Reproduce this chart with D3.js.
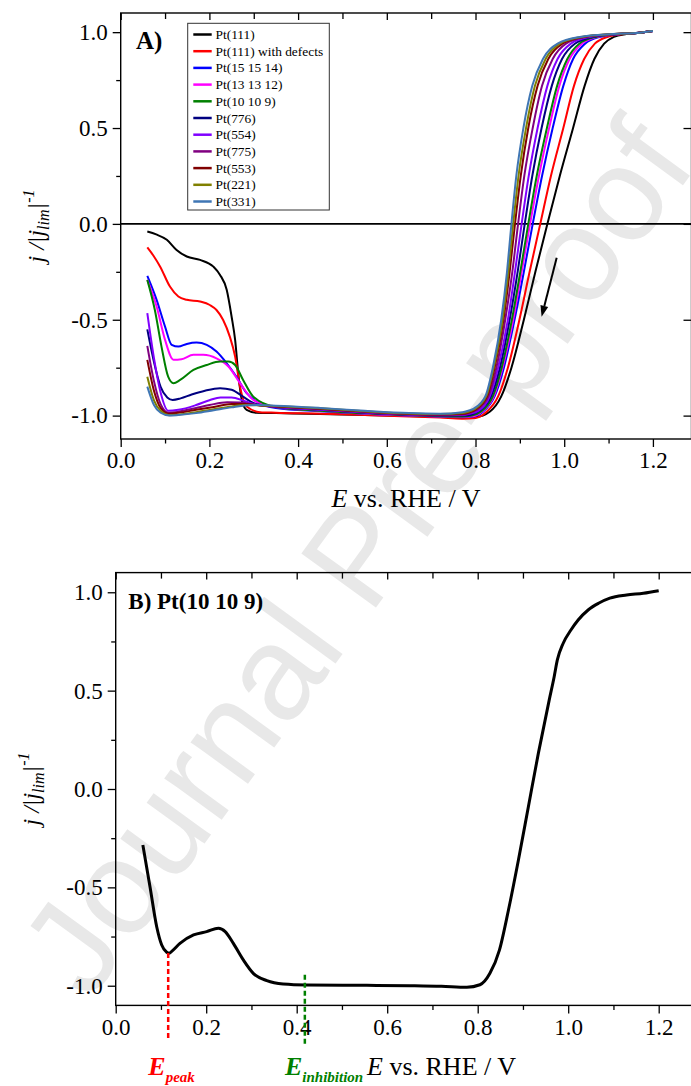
<!DOCTYPE html>
<html><head><meta charset="utf-8">
<script src="https://cdn.jsdelivr.net/npm/d3@7"></script>
<style>html,body{margin:0;padding:0;background:#fff;}svg{display:block;}</style>
</head><body>
<svg id="c" width="691" height="1086"></svg>
<script>
// ---------------- DATA ----------------
const seriesNames = ["Pt(111)","Pt(111) with defects","Pt(15 15 14)","Pt(13 13 12)","Pt(10 10 9)","Pt(776)","Pt(554)","Pt(775)","Pt(553)","Pt(221)","Pt(331)"];
const seriesColors = ["#000000","#ff0000","#0000ff","#ff00ff","#008000","#000080","#8000ff","#800080","#800000","#808000","#3f76b4"];

const pt111 = [[0.06,-0.04],[0.08,-0.055],[0.104,-0.083],[0.126,-0.136],[0.149,-0.17],[0.179,-0.188],[0.209,-0.223],[0.224,-0.266],[0.239,-0.344],[0.25,-0.483],[0.258,-0.605],[0.265,-0.779],[0.273,-0.918],[0.284,-0.97],[0.306,-0.985],[0.35,-0.987],[0.45,-0.992],[0.55,-0.997],[0.65,-1.002],[0.72,-1.006],[0.77,-1.01],[0.80,-1.008],[0.832,-0.98],[0.858,-0.9],[0.881,-0.75],[0.909,-0.5],[0.935,-0.25],[0.962,0],[0.99,0.25],[1.02,0.5],[1.046,0.72],[1.068,0.86],[1.09,0.94],[1.112,0.975],[1.14,0.99],[1.17,0.997],[1.2,1.006]];
const pt111def = [[0.06,-0.123],[0.075,-0.17],[0.089,-0.223],[0.111,-0.327],[0.13,-0.379],[0.149,-0.396],[0.179,-0.405],[0.201,-0.423],[0.216,-0.449],[0.231,-0.501],[0.246,-0.588],[0.258,-0.692],[0.269,-0.849],[0.284,-0.953],[0.314,-0.982],[0.35,-0.985],[0.45,-0.99],[0.55,-0.997],[0.65,-1.004],[0.72,-1.01],[0.77,-1.016],[0.80,-1.012],[0.825,-0.98],[0.851,-0.9],[0.873,-0.75],[0.899,-0.5],[0.922,-0.25],[0.946,0],[0.97,0.25],[0.998,0.5],[1.022,0.72],[1.045,0.86],[1.069,0.94],[1.097,0.975],[1.134,0.99],[1.17,0.997],[1.2,1.006]];
const pt151514 = [[0.06,-0.271],[0.081,-0.396],[0.1,-0.536],[0.115,-0.631],[0.13,-0.64],[0.149,-0.626],[0.171,-0.619],[0.194,-0.631],[0.216,-0.666],[0.239,-0.727],[0.261,-0.797],[0.284,-0.883],[0.307,-0.927],[0.35,-0.96],[0.45,-0.977],[0.55,-0.99],[0.65,-1.0],[0.72,-1.005],[0.77,-1.008],[0.795,-1.005],[0.817,-0.98],[0.843,-0.9],[0.864,-0.75],[0.888,-0.5],[0.909,-0.25],[0.929,0],[0.95,0.25],[0.974,0.5],[0.998,0.72],[1.02,0.86],[1.047,0.94],[1.08,0.975],[1.128,0.99],[1.17,0.997],[1.2,1.006]];
const pt131312 = [[0.06,-0.292],[0.081,-0.431],[0.1,-0.605],[0.119,-0.709],[0.137,-0.706],[0.164,-0.683],[0.186,-0.683],[0.216,-0.701],[0.243,-0.744],[0.269,-0.831],[0.299,-0.918],[0.35,-0.955],[0.45,-0.975],[0.55,-0.99],[0.65,-1.0],[0.72,-1.004],[0.77,-1.006],[0.795,-1.003],[0.814,-0.98],[0.841,-0.9],[0.861,-0.75],[0.885,-0.5],[0.904,-0.25],[0.923,0],[0.943,0.25],[0.966,0.5],[0.989,0.72],[1.012,0.86],[1.04,0.94],[1.075,0.975],[1.126,0.99],[1.17,0.997],[1.2,1.006]];
const pt10109 = [[0.06,-0.292],[0.077,-0.449],[0.092,-0.64],[0.107,-0.797],[0.119,-0.831],[0.134,-0.814],[0.164,-0.762],[0.194,-0.736],[0.224,-0.718],[0.243,-0.718],[0.258,-0.736],[0.276,-0.814],[0.299,-0.901],[0.35,-0.955],[0.45,-0.975],[0.55,-0.988],[0.65,-0.998],[0.72,-1.003],[0.77,-1.005],[0.792,-1.0],[0.812,-0.98],[0.839,-0.9],[0.859,-0.75],[0.882,-0.5],[0.901,-0.25],[0.919,0],[0.938,0.25],[0.961,0.5],[0.984,0.72],[1.007,0.86],[1.034,0.94],[1.071,0.975],[1.124,0.99],[1.17,0.997],[1.2,1.006]];
const pt776 = [[0.06,-0.55],[0.075,-0.72],[0.09,-0.85],[0.105,-0.905],[0.117,-0.918],[0.135,-0.91],[0.16,-0.89],[0.19,-0.87],[0.224,-0.857],[0.25,-0.865],[0.275,-0.9],[0.3,-0.935],[0.35,-0.955],[0.45,-0.97],[0.55,-0.985],[0.65,-0.996],[0.72,-1.0],[0.77,-1.0],[0.79,-0.995],[0.809,-0.975],[0.835,-0.9],[0.855,-0.75],[0.877,-0.5],[0.895,-0.25],[0.911,0],[0.928,0.25],[0.949,0.5],[0.972,0.72],[0.995,0.86],[1.024,0.94],[1.064,0.975],[1.121,0.99],[1.17,0.997],[1.2,1.006]];
const pt554 = [[0.06,-0.465],[0.075,-0.7],[0.09,-0.88],[0.107,-0.975],[0.13,-0.97],[0.17,-0.945],[0.2,-0.92],[0.225,-0.905],[0.25,-0.905],[0.28,-0.925],[0.31,-0.945],[0.35,-0.955],[0.45,-0.97],[0.55,-0.984],[0.65,-0.995],[0.72,-0.998],[0.77,-0.997],[0.787,-0.99],[0.806,-0.975],[0.832,-0.9],[0.851,-0.75],[0.873,-0.5],[0.889,-0.25],[0.904,0],[0.92,0.25],[0.94,0.5],[0.962,0.72],[0.985,0.86],[1.015,0.94],[1.057,0.975],[1.119,0.99],[1.17,0.997],[1.2,1.006]];
const pt775 = [[0.06,-0.636],[0.075,-0.82],[0.09,-0.94],[0.108,-0.985],[0.13,-0.98],[0.17,-0.96],[0.2,-0.945],[0.24,-0.93],[0.27,-0.932],[0.3,-0.942],[0.35,-0.953],[0.45,-0.966],[0.55,-0.981],[0.65,-0.993],[0.72,-0.996],[0.77,-0.994],[0.785,-0.988],[0.802,-0.972],[0.829,-0.9],[0.847,-0.75],[0.867,-0.5],[0.883,-0.25],[0.896,0],[0.91,0.25],[0.929,0.5],[0.95,0.72],[0.974,0.86],[1.004,0.94],[1.049,0.975],[1.116,0.99],[1.17,0.997],[1.2,1.006]];
const pt553 = [[0.06,-0.709],[0.075,-0.87],[0.09,-0.96],[0.108,-0.99],[0.13,-0.985],[0.17,-0.97],[0.21,-0.955],[0.25,-0.94],[0.28,-0.94],[0.31,-0.946],[0.35,-0.952],[0.45,-0.964],[0.55,-0.979],[0.65,-0.991],[0.72,-0.994],[0.77,-0.99],[0.783,-0.985],[0.799,-0.97],[0.826,-0.9],[0.843,-0.75],[0.863,-0.5],[0.877,-0.25],[0.889,0],[0.902,0.25],[0.919,0.5],[0.94,0.72],[0.964,0.86],[0.996,0.94],[1.043,0.975],[1.113,0.99],[1.17,0.997],[1.2,1.006]];
const pt221 = [[0.06,-0.797],[0.075,-0.92],[0.09,-0.975],[0.11,-0.998],[0.13,-0.995],[0.17,-0.982],[0.21,-0.967],[0.25,-0.952],[0.28,-0.945],[0.31,-0.946],[0.35,-0.95],[0.45,-0.962],[0.55,-0.977],[0.65,-0.989],[0.72,-0.992],[0.77,-0.986],[0.78,-0.982],[0.797,-0.968],[0.824,-0.9],[0.841,-0.75],[0.861,-0.5],[0.874,-0.25],[0.885,0],[0.897,0.25],[0.914,0.5],[0.934,0.72],[0.958,0.86],[0.99,0.94],[1.039,0.975],[1.112,0.99],[1.17,0.997],[1.2,1.006]];
const pt331 = [[0.06,-0.849],[0.075,-0.945],[0.09,-0.985],[0.11,-1.0],[0.13,-0.997],[0.17,-0.987],[0.21,-0.972],[0.25,-0.957],[0.28,-0.947],[0.31,-0.945],[0.35,-0.948],[0.45,-0.96],[0.55,-0.975],[0.65,-0.987],[0.72,-0.99],[0.77,-0.982],[0.778,-0.978],[0.795,-0.965],[0.822,-0.9],[0.839,-0.75],[0.858,-0.5],[0.871,-0.25],[0.881,0],[0.892,0.25],[0.908,0.5],[0.928,0.72],[0.952,0.86],[0.985,0.94],[1.035,0.975],[1.11,0.99],[1.17,0.997],[1.2,1.006]];
const seriesA = [pt111, pt111def, pt151514, pt131312, pt10109, pt776, pt554, pt775, pt553, pt221, pt331];

const curveB = [[0.06,-0.285],[0.0758,-0.497],[0.0906,-0.70],[0.1017,-0.793],[0.1127,-0.83],[0.118,-0.835],[0.125,-0.823],[0.142,-0.785],[0.172,-0.742],[0.201,-0.725],[0.227,-0.708],[0.242,-0.725],[0.26,-0.785],[0.282,-0.869],[0.304,-0.937],[0.334,-0.974],[0.37,-0.991],[0.422,-0.996],[0.555,-0.998],[0.65,-1.0],[0.72,-1.003],[0.776,-1.008],[0.805,-0.995],[0.827,-0.937],[0.848,-0.819],[0.868,-0.615],[0.89,-0.361],[0.912,-0.09],[0.934,0.181],[0.958,0.452],[0.969,0.571],[0.976,0.656],[0.989,0.741],[1.006,0.808],[1.022,0.859],[1.044,0.91],[1.067,0.944],[1.092,0.97],[1.129,0.986],[1.166,0.995],[1.2,1.008]];

const xMajor = [0.0,0.2,0.4,0.6,0.8,1.0,1.2];
const xMinor = [0.1,0.3,0.5,0.7,0.9,1.1];
const yMajor = [-1.0,-0.5,0.0,0.5,1.0];
const yMinor = [-0.75,-0.25,0.25,0.75];
const ePeak = 0.116, eInhib = 0.418;
const arrowA = [[0.983,-0.177],[0.949,-0.484]];

// ---------------- DRAW ----------------
const svg = d3.select("#c");
const serif = "'Liberation Serif','Times New Roman',serif";

// watermark
svg.append("text").attr("transform","translate(356,556) rotate(-54)")
  .attr("text-anchor","middle").attr("dominant-baseline","central")
  .attr("font-family","'Liberation Sans',Arial,sans-serif").attr("font-size",134)
  .attr("fill","#e8e8e8").text("Journal Pre-proof");

function panel(cfg){
  const g = svg.append("g");
  const x = d3.scaleLinear().domain(cfg.xd).range(cfg.xr);
  const y = d3.scaleLinear().domain(cfg.yd).range(cfg.yr);
  const f1 = d3.format(".1f");
  const fmt = d => f1(d).replace("\u2212","-");
  function ax(gen, tr, vals, size, label){
    const a = g.append("g").attr("transform",tr)
      .call(gen.tickValues(vals).tickSize(size).tickSizeOuter(0).tickPadding(label?5:0).tickFormat(label?fmt:""));
    a.attr("font-family",serif).attr("font-size",23);
    a.select(".domain").remove();
    a.selectAll("line").attr("stroke","#000").attr("stroke-width",1.3);
    a.selectAll("text").attr("font-family",serif).attr("font-size",23).attr("fill","#000");
    return a;
  }
  const [x0,x1]=cfg.xr, [yb,yt]=cfg.yr;
  ax(d3.axisBottom(x), `translate(0,${yb})`, xMajor, 8, true);
  ax(d3.axisBottom(x), `translate(0,${yb})`, xMinor, 4.5, false);
  ax(d3.axisLeft(y), `translate(${x0},0)`, yMajor, 8, true);
  ax(d3.axisLeft(y), `translate(${x0},0)`, yMinor, 4.5, false);
  ax(d3.axisTop(x), `translate(0,${yt})`, xMajor, -7, false);
  ax(d3.axisTop(x), `translate(0,${yt})`, xMinor, -6, false);
  if (cfg.rightTicks) ax(d3.axisRight(y), `translate(${x1},0)`, yMajor, -8, false);
  g.append("rect").attr("x",x0).attr("y",yt).attr("width",x1-x0).attr("height",yb-yt)
    .attr("fill","none").attr("stroke","#000").attr("stroke-width",1.4);
  // y label
  const yl = g.append("text").attr("transform",`translate(${cfg.ylx},${(yb+yt)/2}) rotate(-90)`)
    .attr("text-anchor","middle").attr("font-family",serif).attr("font-size",24).attr("font-style","italic");
  yl.append("tspan").text("j /|j");
  yl.append("tspan").attr("dy",5).attr("font-size",16).text("lim");
  yl.append("tspan").attr("dy",-5).text("|");
  yl.append("tspan").attr("dy",-10).attr("font-size",16).text("-1");
  return {g,x,y};
}

// Panel A
const A = panel({xd:[0,1.287], xr:[120.7,691.5], yd:[-1.122,1.1], yr:[439,13], ylx:44, rightTicks:true});
A.g.append("line").attr("x1",120.7).attr("x2",691.5).attr("y1",A.y(0)).attr("y2",A.y(0))
  .attr("stroke","#000").attr("stroke-width",1.6);
const lineA = d3.line().x(d=>A.x(d[0])).y(d=>A.y(d[1])).curve(d3.curveMonotoneX);
seriesA.forEach((s,i)=>{
  A.g.append("path").attr("d",lineA(s)).attr("fill","none").attr("stroke",seriesColors[i]).attr("stroke-width",2);
});
// arrow
{
  const [p0,p1]=arrowA.map(d=>[A.x(d[0]),A.y(d[1])]);
  const ang=Math.atan2(p1[1]-p0[1],p1[0]-p0[0]);
  const L=11,Wd=4;
  const bx=p1[0]-L*Math.cos(ang), by=p1[1]-L*Math.sin(ang);
  A.g.append("line").attr("x1",p0[0]).attr("y1",p0[1]).attr("x2",bx).attr("y2",by).attr("stroke","#000").attr("stroke-width",2);
  A.g.append("path").attr("d",`M${p1[0]},${p1[1]}L${bx+Wd*Math.sin(ang)},${by-Wd*Math.cos(ang)}L${bx-Wd*Math.sin(ang)},${by+Wd*Math.cos(ang)}Z`).attr("fill","#000");
}
// legend
{
  const lg=A.g.append("g");
  lg.append("rect").attr("x",187.7).attr("y",23.3).attr("width",141.6).attr("height",186.7)
    .attr("fill","#fff").attr("stroke","#333").attr("stroke-width",1);
  seriesNames.forEach((n,i)=>{
    const cy=34.5+i*16.7;
    lg.append("line").attr("x1",193.3).attr("x2",211.7).attr("y1",cy).attr("y2",cy).attr("stroke",seriesColors[i]).attr("stroke-width",2.5);
    lg.append("text").attr("x",215.5).attr("y",cy+4.5).attr("font-family",serif).attr("font-size",13.4).text(n);
  });
}
A.g.append("text").attr("x",136).attr("y",48.5).attr("font-family",serif).attr("font-weight","bold").attr("font-size",25).text("A)");
{
  const t=A.g.append("text").attr("x",406).attr("y",507).attr("text-anchor","middle").attr("font-family",serif).attr("font-size",26);
  t.append("tspan").attr("font-style","italic").text("E");
  t.append("tspan").text(" vs. RHE / V");
}

// Panel B
const B = panel({xd:[0,1.28], xr:[115.7,694.9], yd:[-1.1,1.1], yr:[1005.4,572.6], ylx:39, rightTicks:false});
const lineB = d3.line().x(d=>B.x(d[0])).y(d=>B.y(d[1])).curve(d3.curveMonotoneX);
B.g.append("path").attr("d",lineB(curveB)).attr("fill","none").attr("stroke","#000").attr("stroke-width",3);
function yAtB(e){ for(let i=1;i<curveB.length;i++){ if(curveB[i][0]>=e){const a=curveB[i-1],b=curveB[i];return a[1]+(b[1]-a[1])*(e-a[0])/(b[0]-a[0]);}} return 0;}
B.g.append("line").attr("x1",B.x(ePeak)).attr("x2",B.x(ePeak)).attr("y1",B.y(yAtB(ePeak))).attr("y2",1041)
  .attr("stroke","#ff0000").attr("stroke-width",2.5).attr("stroke-dasharray","5,3");
B.g.append("line").attr("x1",B.x(eInhib)).attr("x2",B.x(eInhib)).attr("y1",B.y(yAtB(eInhib))-10).attr("y2",1044)
  .attr("stroke","#008000").attr("stroke-width",2.5).attr("stroke-dasharray","5,3");
B.g.append("text").attr("x",128.3).attr("y",608.5).attr("font-family",serif).attr("font-weight","bold").attr("font-size",23).text("B) Pt(10 10 9)");
{
  const t1=B.g.append("text").attr("x",148.3).attr("y",1075).attr("font-family",serif).attr("font-weight","bold").attr("font-style","italic").attr("font-size",26).attr("fill","#ff0000");
  t1.append("tspan").text("E"); t1.append("tspan").attr("dy",7).attr("font-size",15).text("peak");
  const t2=B.g.append("text").attr("x",285).attr("y",1075).attr("font-family",serif).attr("font-weight","bold").attr("font-style","italic").attr("font-size",26).attr("fill","#008000");
  t2.append("tspan").text("E"); t2.append("tspan").attr("dy",7).attr("font-size",15).text("inhibition");
  const t3=B.g.append("text").attr("x",367).attr("y",1075).attr("font-family",serif).attr("font-size",26);
  t3.append("tspan").attr("font-style","italic").text("E"); t3.append("tspan").text(" vs. RHE / V");
}
</script>
</body></html>
